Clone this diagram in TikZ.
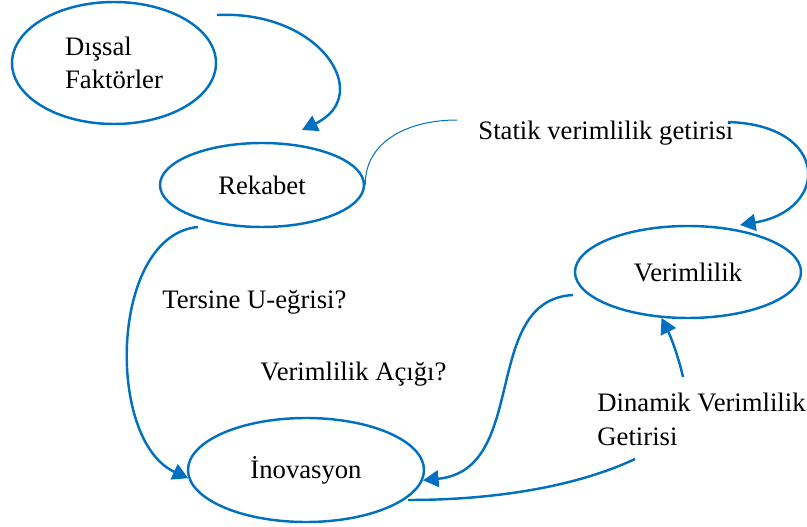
\documentclass[tikz,border=0pt]{standalone}
\usepackage{fontspec}
\setmainfont{Liberation Serif}
\usepackage{xcolor}
\usepackage{tikz}
\usetikzlibrary{shapes.geometric,arrows.meta}
\definecolor{akis}{RGB}{0,112,192}
\newlength\pxu
\setlength\pxu{0.45pt}

\begin{document}
\begin{tikzpicture}[x=0.45pt, y=-0.45pt, font=\fontsize{12}{15}\selectfont,
  kutu/.style={draw=akis, ellipse, line width=1.1pt, inner sep=0pt},
  etiket/.style={inner sep=0pt, anchor=base west},
  ok/.style={draw=akis, line width=1.1pt},
  >={Triangle[length=7pt, width=7.5pt]}]
  \useasboundingbox (0,0) rectangle (807,527);
  \node[kutu, minimum width=204\pxu, minimum height=122\pxu, align=left] (DF) at (114,63) {Dışsal\\Faktörler};
  \node[kutu, minimum width=204\pxu, minimum height=84\pxu] (RK) at (262,185) {Rekabet};
  \node[kutu, minimum width=226\pxu, minimum height=92\pxu] (VR) at (688,272) {Verimlilik};
  \node[kutu, minimum width=236\pxu, minimum height=104\pxu] (IN) at (306,470) {İnovasyon};
  \node[etiket] (SVG) at (478,140) {Statik verimlilik getirisi};
  \node[etiket] (TU) at (162,308) {Tersine U-eğrisi?};
  \node[etiket] (VA) at (260,380) {Verimlilik Açığı?};
  \node[etiket, align=left] (DVG) at (597,445) {Dinamik Verimlilik\\Getirisi};

  \coordinate (DFo) at (217,15);
  \coordinate (RKi) at (302,130);
  \coordinate (RKo) at (198,227);
  \coordinate (SVGi) at (457,120);
  \coordinate (SVGo) at (728,122);
  \coordinate (VRi) at (740,225);
  \coordinate (VRo) at (573,295);
  \coordinate (INo) at (408,500);
  \coordinate (DVGi) at (635,459);
  \coordinate (DVGo) at (683,377);

  \draw[ok, ->] (DFo) .. controls (320,10) and (375,95) .. (RKi);
  \draw[draw=akis, line width=0.45pt] (RK.east) .. controls (365,140) and (410,120) .. (SVGi);
  \draw[ok, ->] (SVGo) .. controls (830,125) and (830,210) .. (VRi);
  \draw[ok, ->] (RKo) .. controls (110,235) and (105,440) .. (IN.184);
  \draw[ok, ->] (VRo) .. controls (480,300) and (530,470) .. (IN.-5);
  \draw[ok] (INo) .. controls (500,500) and (580,485) .. (DVGi);
  \draw[ok, ->] (DVGo) .. controls (678,355) and (670,335) .. (VR.-120);
\end{tikzpicture}
\end{document}
